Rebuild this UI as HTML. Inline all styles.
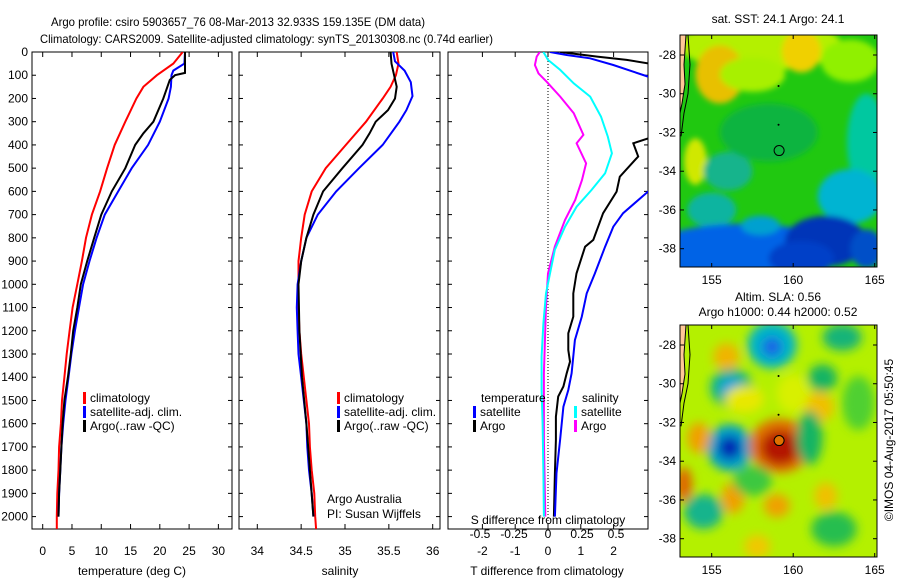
<!DOCTYPE html>
<html><head><meta charset="utf-8"><style>
html,body{margin:0;padding:0;background:#fff;}
svg{display:block;font-family:"Liberation Sans",sans-serif;}
text{font-size:12px;fill:#000;}
</style></head><body>
<svg id="fig" width="900" height="580" viewBox="0 0 900 580">
<defs>
<clipPath id="c1"><rect x="32" y="52" width="200" height="477"/></clipPath>
<clipPath id="c2"><rect x="239" y="52" width="201" height="477"/></clipPath>
<clipPath id="c3"><rect x="448" y="52" width="200" height="477"/></clipPath>
<clipPath id="cm1"><rect x="680" y="35" width="197" height="232"/></clipPath>
<clipPath id="cm2"><rect x="680" y="325" width="197" height="232"/></clipPath>
<filter id="blur1" x="-50%" y="-50%" width="200%" height="200%"><feGaussianBlur stdDeviation="3"/></filter>
<filter id="blur2" x="-50%" y="-50%" width="200%" height="200%"><feGaussianBlur stdDeviation="5"/></filter>
</defs>
<text x="51" y="26" textLength="374" lengthAdjust="spacingAndGlyphs">Argo profile: csiro 5903657_76 08-Mar-2013 32.933S 159.135E (DM data)</text>
<text x="40" y="43" textLength="453" lengthAdjust="spacingAndGlyphs">Climatology: CARS2009. Satellite-adjusted climatology: synTS_20130308.nc (0.74d earlier)</text>
<g id="axes"></g>
<g id="maps"></g>
</svg>
<script>
// ---------- data ----------
const depthTicks=[0,100,200,300,400,500,600,700,800,900,1000,1100,1200,1300,1400,1500,1600,1700,1800,1900,2000];
const tempTicks=[0,5,10,15,20,25,30];
const salTicks=[34,34.5,35,35.5,36];
const tdiffTicks=[-2,-1,0,1,2];
const sdiffTicks=[-0.5,-0.25,0,0.25,0.5];
const sdiffTickLabels=["-0.5","-0.25","0","0.25","0.5"];

const tClimDepth=[0,50,100,150,200,300,400,500,600,700,800,900,1000,1100,1200,1300,1400,1500,1600,1700,1800,1900,2000,2054];
const tClim=[23.9,22.3,19.5,17.2,16.0,14.1,12.3,11.0,9.8,8.4,7.4,6.7,5.9,5.1,4.6,4.1,3.7,3.3,3.1,2.8,2.7,2.5,2.4,2.4];
const tSatDepth=[0,50,80,100,150,200,300,400,500,600,700,800,900,1000,1100,1200,1300,1400,1500,1600,1700,1800,1900,2000];
const tSat=[24.3,24.2,22.3,22.0,21.9,21.5,20.0,18.0,15.2,12.9,10.6,9.2,8.0,6.9,6.2,5.5,4.9,4.4,3.9,3.5,3.2,3.0,2.8,2.7];
const tArgoDepth=[0,90,100,120,200,300,350,400,500,600,700,800,900,1000,1100,1200,1300,1400,1500,1600,1700,1800,1900,2000];
const tArgo=[24.3,24.3,22.6,21.7,20.6,18.9,17.2,15.8,14.1,11.8,10.0,8.8,7.6,6.5,5.9,5.2,4.8,4.3,3.7,3.4,3.2,3.0,2.8,2.7];

const sClimDepth=[0,50,100,150,200,300,400,500,600,700,800,900,1000,1100,1200,1300,1400,1500,1600,1700,1800,1900,2000,2054];
const sClim=[35.59,35.61,35.58,35.52,35.43,35.24,35.01,34.78,34.62,34.54,34.50,34.47,34.47,34.47,34.48,34.50,34.53,34.56,34.59,34.60,34.62,34.65,34.66,34.67];
const sSatDepth=[0,40,80,130,190,250,300,400,500,600,700,800,900,1000,1100,1200,1300,1400,1500,1600,1700,1800,1900,2000];
const sSat=[35.55,35.57,35.68,35.75,35.77,35.70,35.62,35.43,35.16,34.90,34.69,34.56,34.50,34.46,34.45,34.46,34.47,34.50,34.53,34.56,34.57,34.59,34.62,34.64];
const sArgoDepth=[0,50,100,150,200,250,300,350,400,500,600,700,800,900,1000,1200,1400,1600,1800,2000];
const sArgo=[35.52,35.53,35.56,35.59,35.57,35.49,35.35,35.28,35.20,34.97,34.75,34.64,34.56,34.50,34.47,34.48,34.51,34.56,34.60,34.64];

const dtSatDepth=[0,13,27,56,85,106,150,300,500,601,694,752,838,953,1039,1139,1240,1383,1455,1527,1670,1813,2000];
const dtSat=[0.06,0.57,1.28,1.99,2.6,3.05,4.5,5.5,4.0,3.05,2.29,1.99,1.74,1.43,1.18,1.03,0.82,0.72,0.62,0.47,0.37,0.26,0.21];
const dtArgoDepth=[0,20,34,50,70,200,372,393,450,537,601,694,809,838,953,1039,1139,1211,1283,1333,1383,1440,1483,1570,1670,1813,2000];
const dtArgo=[0.37,1.5,2.4,3.1,4.5,5.0,3.05,2.6,2.75,2.19,2.09,1.68,1.38,1.13,0.87,0.77,0.77,0.62,0.62,0.67,0.57,0.47,0.31,0.24,0.24,0.21,0.18];
const dsSatDepth=[0,34,77,135,192,278,364,436,522,594,666,752,852,953,1039,1168,1311,1455,1598,1813,2000];
const dsSat=[-0.034,0,0.09,0.19,0.31,0.39,0.44,0.47,0.42,0.32,0.21,0.125,0.05,0.015,-0.015,-0.034,-0.047,-0.047,-0.04,-0.034,-0.03];
const dsArgoDepth=[0,20,56,92,128,192,264,357,393,479,551,637,723,838,953,1096,1383,1670,2000];
const dsArgo=[-0.06,-0.083,-0.096,-0.07,-0.01,0.09,0.19,0.26,0.21,0.28,0.25,0.2,0.125,0.05,0,-0.015,-0.03,-0.03,-0.02];

// ---------- scales ----------
const yD=d=>52+d*0.2323;
const xT=t=>42.7+t*5.856;
const xS=s=>257.3+(s-34)*87.7;
const xDT=t=>548+t*32.8;
const xDS=s=>548+s*136;

const NS="http://www.w3.org/2000/svg";
const axes=document.getElementById('axes');
function mk(tag,attrs,parent){const e=document.createElementNS(NS,tag);for(const k in attrs)e.setAttribute(k,attrs[k]);(parent||axes).appendChild(e);return e;}
function txt(x,y,s,anchor,parent){const t=mk('text',{x:x,y:y,'text-anchor':anchor||'start'},parent);t.textContent=s;return t;}
function line(depths,vals,xf,color,clip,name){
  const pts=depths.map((d,i)=>xf(vals[i]).toFixed(1)+','+yD(d).toFixed(1)).join(' ');
  const p=mk('polyline',{points:pts,fill:'none',stroke:color,'stroke-width':2,'clip-path':'url(#'+clip+')'});
  
  
  return p;
}
function panel(x0,x1,name){
  const r=mk('rect',{x:x0,y:52,width:x1-x0,height:477,fill:'none',stroke:'#000','stroke-width':1});
  
  
  depthTicks.forEach(d=>{mk('line',{x1:x0,x2:x0+4,y1:yD(d),y2:yD(d),stroke:'#000'});mk('line',{x1:x1-4,x2:x1,y1:yD(d),y2:yD(d),stroke:'#000'});});
}
// panel 1
panel(32,232,'temperature-panel');
depthTicks.forEach(d=>{const t=txt(28,yD(d)+4,String(d),'end');});
tempTicks.forEach(v=>{const x=xT(v);mk('line',{x1:x,x2:x,y1:529,y2:524,stroke:'#000'});mk('line',{x1:x,x2:x,y1:52,y2:57,stroke:'#000'});const t=txt(x,555,String(v),'middle');});
let at=txt(132,575,'temperature (deg C)','middle');
line(tClimDepth,tClim,xT,'#ff0000','c1','temp-climatology-line');
line(tSatDepth,tSat,xT,'#0000ff','c1','temp-satellite-line');
line(tArgoDepth,tArgo,xT,'#000000','c1','temp-argo-line');
// panel 2
panel(239,440,'salinity-panel');
salTicks.forEach(v=>{const x=xS(v);mk('line',{x1:x,x2:x,y1:529,y2:524,stroke:'#000'});mk('line',{x1:x,x2:x,y1:52,y2:57,stroke:'#000'});const t=txt(x,555,String(v),'middle');});
at=txt(340,575,'salinity','middle');
line(sClimDepth,sClim,xS,'#ff0000','c2','sal-climatology-line');
line(sSatDepth,sSat,xS,'#0000ff','c2','sal-satellite-line');
line(sArgoDepth,sArgo,xS,'#000000','c2','sal-argo-line');
// panel 3
panel(448,648,'difference-panel');
mk('line',{x1:548,x2:548,y1:52,y2:529,stroke:'#000','stroke-dasharray':'1,2'});
tdiffTicks.forEach(v=>{const x=xDT(v);mk('line',{x1:x,x2:x,y1:529,y2:524,stroke:'#000'});mk('line',{x1:x,x2:x,y1:52,y2:57,stroke:'#000'});const t=txt(x,555,String(v),'middle');});
at=txt(547,575,'T difference from climatology','middle');
line(dsArgoDepth,dsArgo,xDS,'#ff00ff','c3','sdiff-argo-line');
line(dsSatDepth,dsSat,xDS,'#00ffff','c3','sdiff-satellite-line');
line(dtArgoDepth,dtArgo,xDT,'#000000','c3','tdiff-argo-line');
line(dtSatDepth,dtSat,xDT,'#0000ff','c3','tdiff-satellite-line');
sdiffTicks.forEach((v,i)=>{const t=txt(xDS(v),538,sdiffTickLabels[i],'middle');});
at=txt(548,524,'S difference from climatology','middle');

// legends
function leg(x,y,color,label,name){
  const g=mk('g',{});
  
  
  mk('rect',{x:x,y:y-10,width:3,height:12,fill:color},g);
  txt(x+7,y,label,'start',g);
}
leg(83,402,'#ff0000','climatology','legend-temp-climatology');
leg(83,416,'#0000ff','satellite-adj. clim.','legend-temp-satellite');
leg(83,430,'#000000','Argo(..raw -QC)','legend-temp-argo');
leg(337,402,'#ff0000','climatology','legend-sal-climatology');
leg(337,416,'#0000ff','satellite-adj. clim.','legend-sal-satellite');
leg(337,430,'#000000','Argo(..raw -QC)','legend-sal-argo');
at=txt(481,402,'temperature');
at=txt(582,402,'salinity');
leg(473,416,'#0000ff','satellite','legend-tdiff-satellite');
leg(473,430,'#000000','Argo','legend-tdiff-argo');
leg(574,416,'#00ffff','satellite','legend-sdiff-satellite');
leg(574,430,'#ff00ff','Argo','legend-sdiff-argo');
at=txt(327,503,'Argo Australia');
at=txt(327,518,'PI: Susan Wijffels');

// ---------- maps ----------
const maps=document.getElementById('maps');
const lonTicks=[155,160,165];
const latTicks=[-28,-30,-32,-34,-36,-38];
const xL=lon=>711.7+(lon-155)*16.3;
function map(y0,latTop,clip,base,blobs,blur,name,floatFill){
  const g=mk('g',{},maps);
  
  
  const yL=lat=>latTop+(-lat-28)*19.37;
  const gc=mk('g',{'clip-path':'url(#'+clip+')'},g);
  mk('rect',{x:680,y:y0,width:197,height:232,fill:base},gc);
  const gb=mk('g',{filter:'url(#'+blur+')'},gc);
  blobs.forEach(b=>mk('ellipse',{cx:xL(b[0]),cy:yL(b[1]),rx:b[2]*16.3,ry:b[3]*19.37,fill:b[4]},gb));
  mk('path',{d:`M680,${y0} L686,${y0} L684,${yL(-28.5)} L685,${yL(-29.5)} L682,${yL(-30.5)} L680,${yL(-31)} Z`,fill:'#ffc896',stroke:'#000','stroke-width':1},gc);
  mk('polyline',{points:`688,${y0} 690,${yL(-28.5)} 688,${yL(-30)} 684,${yL(-31)} 681,${yL(-32.2)}`,fill:'none',stroke:'#000'},gc);
  mk('circle',{cx:xL(159.1),cy:yL(-29.6),r:1,fill:'#000'},gc);
  mk('circle',{cx:xL(159.1),cy:yL(-31.6),r:1,fill:'#000'},gc);
  mk('circle',{cx:xL(159.135),cy:yL(-32.933),r:5,fill:floatFill,stroke:'#000'},gc);
  mk('rect',{x:680,y:y0,width:197,height:232,fill:'none',stroke:'#000'},g);
  lonTicks.forEach(v=>{const x=xL(v);mk('line',{x1:x,x2:x,y1:y0+232,y2:y0+228,stroke:'#000'},g);mk('line',{x1:x,x2:x,y1:y0,y2:y0+4,stroke:'#000'},g);const t=txt(x,y0+249,String(v),'middle',g);});
  latTicks.forEach(v=>{const y=yL(v);mk('line',{x1:680,x2:684,y1:y,y2:y,stroke:'#000'},g);mk('line',{x1:873,x2:877,y1:y,y2:y,stroke:'#000'},g);const t=txt(676,y+4,String(v),'end',g);});
}
map(35,55,'cm1','#20c810',[
 [158,-27.5,5,1.3,'#b4f000'],[155.5,-29,1.5,1.5,'#e8c000'],[160.5,-27.8,1.2,1.1,'#f0d000'],[157.5,-29,2,0.9,'#a8f000'],
 [163.5,-28.3,1.8,1.1,'#90f000'],[154,-33.5,0.7,1.2,'#d0e800'],[164.5,-32.5,1.2,2.5,'#00c8a0'],[163.5,-35.3,2,1.4,'#00b4d2'],
 [156,-34,1.5,1,'#14b48c'],[158.5,-32,3,1.5,'#10b440'],[155,-36,1.5,0.9,'#10b4a0'],
 [157,-38.2,6,1.5,'#0064e6'],[162,-37.6,2.5,1.3,'#0034b8'],[160.5,-38.5,2,0.9,'#0040c8'],[164.5,-38,1,1,'#0050c8'],[158,-36.8,1.2,0.5,'#00a0d0']
],'blur1','Map SST','none');
map(325,345,'cm2','#b4f000',[
 [158.7,-28,1.5,1.2,'#00b4c8'],[158.7,-28.1,0.6,0.5,'#1464e6'],[156.2,-30.2,1.3,1,'#14b48c'],[156.2,-30.2,0.7,0.5,'#00a0e0'],
 [156.1,-33.3,1.4,1.2,'#00a0c8'],[156.1,-33.3,0.7,0.6,'#0028b4'],
 [159.2,-33.2,1.9,1.4,'#e07000'],[159.2,-33.3,1.2,0.9,'#b41400'],
 [154.2,-32.8,0.7,0.8,'#f0a000'],[153.3,-35.2,0.5,0.9,'#e06400'],[155.9,-28.6,0.8,0.7,'#f0b400'],[161.5,-31.2,1,0.8,'#f0c000'],
 [156.3,-35.9,0.7,0.8,'#f0a000'],[159,-36.3,0.8,0.6,'#f0a000'],[162,-35.8,0.7,0.7,'#f0c000'],[157.8,-38.4,0.8,0.6,'#f0c800'],
 [161.8,-29.7,0.9,0.7,'#14b464'],[163,-27.6,1.2,0.7,'#14b478'],[161,-32.8,0.8,1.4,'#14b464'],[164,-31,1,1.4,'#50d030'],
 [154.5,-36.6,1.2,0.9,'#14b48c'],[162.5,-37.5,1.4,0.9,'#28be50'],[157.5,-35,1.2,0.8,'#3cc840'],[157,-30.8,1.2,0.7,'#e8e800'],[160,-30.5,1,1,'#d8f000']
],'blur2','Map SLA','#e07000');
let mt=txt(778,23,'sat. SST: 24.1  Argo: 24.1','middle',maps);
mt=txt(778,301,'Altim. SLA: 0.56','middle',maps);
mt=txt(778,316,'Argo h1000: 0.44 h2000: 0.52','middle',maps);
mt=txt(0,0,'\u00a9IMOS 04-Aug-2017 05:50:45','middle',maps);mt.setAttribute('transform','translate(893,440) rotate(-90)');
</script>
</body></html>
